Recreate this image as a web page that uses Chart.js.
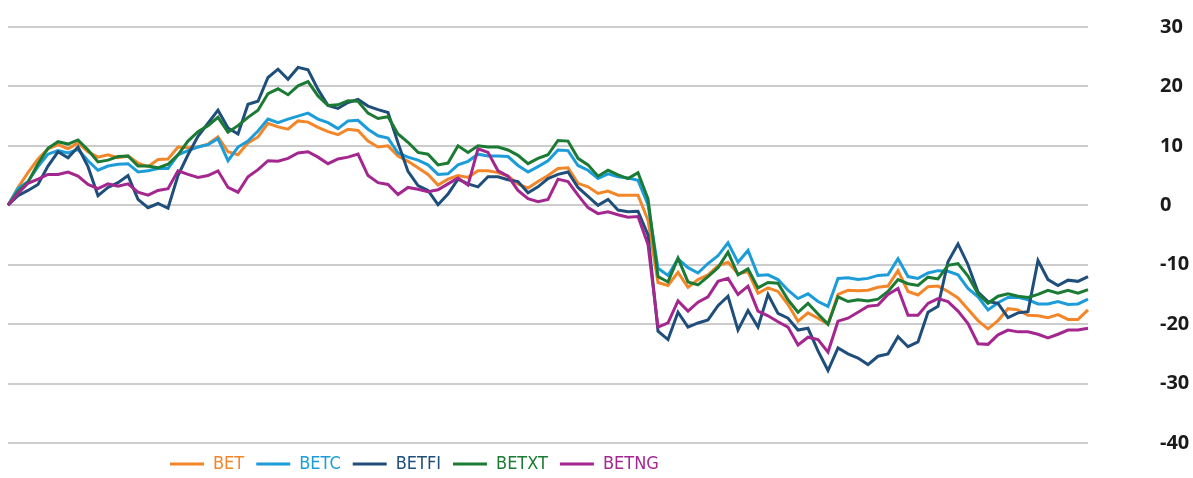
<!DOCTYPE html>
<html>
<head>
<meta charset="utf-8">
<script src="https://cdn.jsdelivr.net/npm/chart.js@4/dist/chart.umd.min.js"></script>
<style>
  html, body { margin: 0; padding: 0; background: #fff; }
  #wrap { width: 1193px; height: 478px; position: relative; }
</style>
</head>
<body>
<div id="wrap"><canvas id="chart"></canvas></div>
<script>
// index values, % change, one reading every ~10px of the original picture
const seriesNames = ['BET', 'BETC', 'BETFI', 'BETXT', 'BETNG'];
const yTicks = [-40, -30, -20, -10, 0, 10, 20, 30];

const bet = [
  0, 3.0, 5.5, 7.8, 9.5, 10.2, 9.5, 10.5, 9.0, 8.1,
  8.5, 8.0, 8.3, 7.1, 6.5, 7.7, 7.8, 9.8, 9.7, 9.8,
  10.3, 11.5, 9.0, 8.5, 10.5, 11.5, 13.8, 13.2, 12.8, 14.2,
  14.0, 13.1, 12.4, 11.9, 12.8, 12.6, 10.8, 9.8, 10.0, 8.3,
  7.4, 6.3, 5.2, 3.4, 4.4, 5.0, 4.7, 5.8, 5.8, 5.5,
  4.9, 3.6, 2.9, 4.0, 5.0, 6.2, 6.3, 3.7, 3.1, 2.0,
  2.4, 1.7, 1.7, 1.7, -2.5, -13.0, -13.5, -11.3, -13.8, -12.5,
  -11.7, -10.2, -9.6, -11.5, -11.2, -14.8, -13.9, -14.5, -16.7, -19.5,
  -18.1, -19.0, -20.0, -15.0, -14.3, -14.4, -14.3, -13.8, -13.6, -11.0,
  -14.5, -15.1, -13.7, -13.6, -14.5, -15.6, -17.5, -19.4, -20.8, -19.4,
  -17.4, -17.6, -18.5, -18.6, -18.9, -18.4, -19.2, -19.2, -17.6
];
const betc = [
  0, 2.8, 4.0, 6.5, 8.6, 9.2, 8.8, 9.4, 7.5, 5.9,
  6.6, 6.9, 7.0, 5.6, 5.8, 6.2, 6.2, 8.5, 9.2, 9.8,
  10.2, 11.2, 7.5, 9.8, 10.8, 12.5, 14.5, 13.9, 14.5, 15.0,
  15.5, 14.5, 13.9, 12.9, 14.2, 14.3, 12.8, 11.7, 11.3, 8.8,
  8.1, 7.6, 6.8, 5.2, 5.3, 6.8, 7.4, 8.6, 8.3, 8.3,
  8.2, 6.7, 5.6, 6.5, 7.5, 9.3, 9.2, 6.7, 5.9, 4.5,
  5.3, 4.8, 4.6, 4.2, 0.1, -10.6, -11.8, -9.0, -10.5, -11.4,
  -9.8, -8.5, -6.3, -9.6, -7.6, -11.8, -11.7, -12.5, -14.3, -15.7,
  -14.9, -16.2, -17.0, -12.3, -12.2, -12.5, -12.3, -11.8, -11.7, -9.0,
  -12.0, -12.3, -11.4, -11.0, -11.1, -11.7, -14.0, -15.4, -17.6, -16.4,
  -15.5, -15.5, -15.9, -16.6, -16.6, -16.2, -16.7, -16.6, -15.8
];
const betfi = [
  0, 1.6, 2.5, 3.5, 6.6, 9.0, 8.0, 9.8, 6.5, 1.6,
  3.0, 3.8, 5.0, 1.0, -0.4, 0.3, -0.5, 5.0, 8.5, 11.6,
  13.8, 16.0, 13.0, 12.0, 17.0, 17.5, 21.5, 22.9, 21.2, 23.2,
  22.8, 19.5, 16.8, 16.3, 17.3, 17.8, 16.7, 16.1, 15.6, 10.5,
  5.7, 3.3, 2.5, 0.1, 1.9, 4.4, 3.6, 3.1, 4.8, 4.8,
  4.3, 4.0, 2.1, 3.1, 4.5, 5.2, 5.6, 3.0, 1.5, 0.0,
  1.0, -0.8, -1.1, -1.0, -5.0, -21.2, -22.6, -18.0, -20.5, -19.8,
  -19.3, -16.9, -15.3, -21.0, -17.7, -20.5, -15.0, -18.2, -19.0, -21.0,
  -20.7, -24.5, -27.8, -24.0, -25.0, -25.7, -26.8, -25.4, -25.0, -22.1,
  -23.8, -23.0, -18.0, -17.0, -9.5, -6.5, -10.0, -14.6, -16.2, -16.5,
  -18.9, -18.1, -17.9, -9.3, -12.5, -13.5, -12.6, -12.8, -12.0
];
const betxt = [
  0, 2.3, 3.9, 7.0, 9.6, 10.7, 10.3, 11.0, 9.3, 7.3,
  7.6, 8.2, 8.3, 6.6, 6.6, 6.3, 6.9, 8.5, 10.8, 12.4,
  13.4, 14.8, 12.3, 13.4, 14.8, 16.0, 18.8, 19.6, 18.6, 20.1,
  20.8, 18.4, 16.8, 16.9, 17.6, 17.5, 15.5, 14.6, 14.9, 12.0,
  10.6, 8.9, 8.6, 6.8, 7.1, 10.0, 8.9, 10.0, 9.8, 9.8,
  9.3, 8.4, 7.0, 7.9, 8.5, 10.9, 10.8, 7.9, 6.8, 4.9,
  5.9, 5.1, 4.5, 5.5, 1.1, -12.0, -12.9, -8.9, -12.9, -13.4,
  -12.0, -10.5, -7.9, -11.7, -10.7, -13.9, -13.0, -13.1, -15.9, -18.0,
  -16.5, -18.3, -20.0, -15.4, -16.2, -15.9, -16.1, -15.8, -14.5, -12.5,
  -13.2, -13.5, -12.1, -12.4, -10.1, -9.8, -11.9, -14.9, -16.5, -15.3,
  -14.9, -15.3, -15.5, -15.0, -14.3, -14.8, -14.3, -14.8, -14.2
];
const betng = [
  0, 2.0, 3.7, 4.4, 5.2, 5.2, 5.6, 4.9, 3.5, 2.8,
  3.6, 3.2, 3.6, 2.2, 1.7, 2.5, 2.8, 5.8, 5.2, 4.7,
  5.0, 5.8, 3.0, 2.2, 4.8, 6.0, 7.5, 7.4, 7.9, 8.8,
  9.0, 8.1, 7.0, 7.8, 8.1, 8.6, 5.0, 3.8, 3.5, 1.8,
  3.0, 2.7, 2.3, 2.6, 3.6, 4.6, 3.4, 9.5, 8.9, 5.8,
  4.9, 2.5, 1.1, 0.6, 1.0, 4.4, 4.0, 1.7, -0.4, -1.4,
  -1.1, -1.6, -2.0, -1.9, -6.6, -20.5, -19.8, -16.1, -17.8, -16.3,
  -15.4, -12.8, -12.3, -15.0, -13.6, -17.8, -18.6, -19.6, -20.5, -23.5,
  -22.2, -22.6, -24.7, -19.5, -19.0, -18.0, -17.0, -16.8, -15.0, -14.0,
  -18.5, -18.5, -16.5, -15.7, -16.2, -17.8, -19.9, -23.3, -23.4, -21.8,
  -21.0, -21.3, -21.3, -21.7, -22.3, -21.7, -21.0, -21.0, -20.7
];
const days = bet.map((v, i) => i);

const colors = ['#F4862A', '#1C9CD8', '#1F4E7A', '#1B7A33', '#A3278F'];
const values = [bet, betc, betfi, betxt, betng];

const legendFont = "'Liberation Sans Narrow', 'DejaVu Sans Condensed', sans-serif";

// fix the legend box height and move it so it starts where the original one does
const legendShift = {
  id: 'legendShift',
  beforeLayout(chart) {
    const lg = chart.legend;
    if (lg && !lg._patched) {
      const fit = lg.fit;
      lg.fit = function () {
        fit.call(this);
        this.height = 35;
      };
      lg._patched = true;
    }
  },
  afterLayout(chart) {
    const lg = chart.legend;
    if (lg) {
      lg.left = 158;
    }
  }
};

const ctx = document.getElementById('chart');
new Chart(ctx, {
  type: 'line',
  data: {
    labels: days,
    datasets: seriesNames.map((name, i) => ({
      label: name,
      data: values[i],
      borderColor: colors[i],
      backgroundColor: colors[i],
      borderWidth: 3,
      pointRadius: 0,
      tension: 0,
      order: seriesNames.length - i
    }))
  },
  options: {
    responsive: true,
    maintainAspectRatio: false,
    animation: false,
    layout: { padding: { left: 8, right: 0, top: 27, bottom: 0 } },
    plugins: {
      tooltip: { enabled: false },
      legend: {
        position: 'bottom',
        align: 'start',
        labels: {
          boxWidth: 34,
          boxHeight: 3,
          padding: 12,
          font: { family: legendFont, size: 18 },
          sort: (a, b) => a.datasetIndex - b.datasetIndex,
          generateLabels: chart => Chart.defaults.plugins.legend.labels.generateLabels(chart).map(l => {
            l.fontColor = l.strokeStyle;
            l.fillStyle = l.strokeStyle;
            l.lineWidth = 0;
            return l;
          })
        }
      }
    },
    scales: {
      x: { display: false },
      y: {
        position: 'right',
        min: -40,
        max: 30,
        afterBuildTicks: scale => { scale.ticks = yTicks.map(v => ({ value: v })); },
        afterFit: scale => { scale.width = 105; },
        border: { display: false },
        grid: { color: '#cccccc', lineWidth: 2, drawTicks: true, tickLength: 72, tickColor: 'rgba(0,0,0,0)' },
        ticks: {
          padding: 0,
          color: '#1a1a1a',
          font: { family: "'Open Sans', sans-serif", size: 20, weight: 'bold' }
        }
      }
    }
  },
  plugins: [legendShift]
});
</script>
</body>
</html>
